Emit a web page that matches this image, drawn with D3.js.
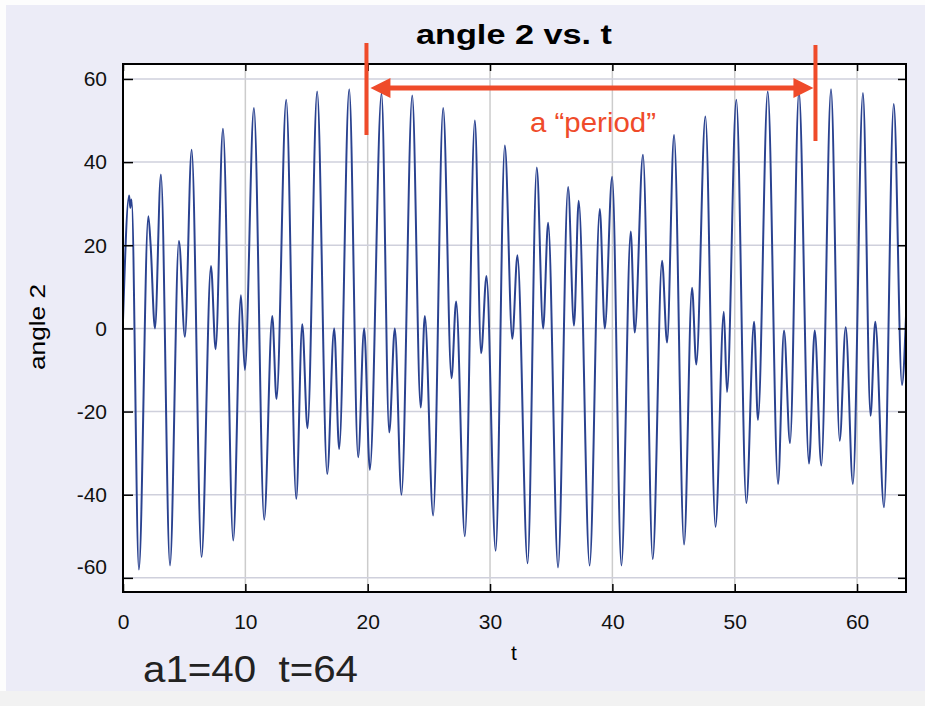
<!DOCTYPE html>
<html>
<head>
<meta charset="utf-8">
<script src="https://cdn.jsdelivr.net/npm/d3@7"></script>
<style>
  body { margin: 0; background: #fff; }
  text { font-family: "Liberation Sans", Arial, sans-serif; }
</style>
</head>
<body>
<div class="chart"></div>
<script>
// turning points of angle 2
var tValues = [0.00, 0.50, 0.60, 0.70, 1.30, 2.07, 2.26, 2.61, 3.10, 3.84,
  4.57, 5.06, 5.61, 6.42, 7.19, 7.57, 8.17, 9.01, 9.64, 9.96,
  10.70, 11.54, 12.20, 12.55, 13.34, 14.16, 14.65, 15.08, 15.87, 16.69,
  17.26, 17.67, 18.49, 19.22, 19.71, 20.18, 21.13, 21.76, 22.22, 22.76,
  23.64, 24.33, 24.67, 25.35, 26.17, 26.85, 27.23, 27.94, 28.76, 29.27,
  29.71, 30.46, 31.21, 31.82, 32.24, 33.07, 33.82, 34.34, 34.75, 35.56,
  36.38, 36.86, 37.25, 38.14, 38.97, 39.38, 39.98, 40.74, 41.50, 41.83,
  42.50, 43.30, 44.06, 44.47, 45.04, 45.86, 46.51, 46.86, 47.60, 48.43,
  49.11, 49.37, 50.13, 50.95, 51.58, 51.90, 52.70, 53.54, 54.03, 54.52,
  55.25, 56.07, 56.54, 57.08, 57.87, 58.58, 59.07, 59.66, 60.48, 61.10,
  61.49, 62.20, 63.00, 63.67, 64.00];
var angle2Values = [2, 32, 29, 31, -58, 27, 20, 0, 37, -57,
  21, -2, 43, -55, 15, -5, 48, -51, 8, -10,
  53, -46, 3, -17, 55, -41, 1, -24, 57, -35,
  0, -29, 57.5, -31, 0, -34, 56.5, -25, 0, -40,
  56, -19, 3, -45, 53, -12, 6.5, -50, 50, -6,
  12.6, -53.5, 44, -2.5, 17.6, -56.5, 38.7, 0, 25.4, -57.5,
  34, 0.7, 30.7, -57, 28.7, 0, 36.5, -57, 23.3, -1,
  41.8, -55.5, 16.3, -3.4, 46.5, -52, 9.8, -8.7, 51, -47.7,
  4, -15.3, 55, -42, 1.6, -22, 57, -37.4, -0.5, -27.6,
  57, -32.5, -0.5, -33, 57.5, -27, 0.3, -37.4, 56.6, -21,
  1.6, -43, 54, -13.6, 3];

var xTicks = [0, 10, 20, 30, 40, 50, 60];
var yTicks = [-60, -40, -20, 0, 20, 40, 60];
var periodStart = 19.9, periodEnd = 56.6;

var width = 925, height = 706;
var plot = {left: 123, right: 906, top: 64, bottom: 592};

var svg = d3.select(".chart")
  .append("svg")
  .attr("width", width)
  .attr("height", height);

// page background
svg.append("rect").attr("x", 0).attr("y", 0).attr("width", width).attr("height", height).attr("fill", "#fdfdfd");
svg.append("rect").attr("x", 6).attr("y", 5).attr("width", width - 6).attr("height", 686).attr("fill", "#ececf7");
svg.append("rect").attr("x", 0).attr("y", 691).attr("width", width).attr("height", 15).attr("fill", "#f2f2f2");

var x = d3.scaleLinear().domain([0, 64]).range([plot.left, plot.right]);
var y = d3.scaleLinear().domain([-63.4, 63.6]).range([plot.bottom, plot.top]);

svg.append("rect")
  .attr("x", plot.left).attr("y", plot.top)
  .attr("width", plot.right - plot.left).attr("height", plot.bottom - plot.top)
  .attr("fill", "#ffffff");

// grid
svg.append("g").selectAll("line")
  .data(xTicks.filter(d => d > 0))
  .enter().append("line")
  .attr("x1", d => x(d)).attr("x2", d => x(d))
  .attr("y1", plot.top).attr("y2", plot.bottom)
  .attr("stroke", "#cccccc").attr("stroke-width", 1.5);

svg.append("g").selectAll("line")
  .data(yTicks)
  .enter().append("line")
  .attr("x1", plot.left).attr("x2", plot.right)
  .attr("y1", d => y(d)).attr("y2", d => y(d))
  .attr("stroke", "#cfd0dc").attr("stroke-width", 1.5);

svg.append("clipPath").attr("id", "clip")
  .append("rect")
  .attr("x", plot.left).attr("y", plot.top)
  .attr("width", plot.right - plot.left).attr("height", plot.bottom - plot.top);

var points = tValues.map(function(t, i) { return {t: t, v: angle2Values[i]}; });

var line = d3.line()
  .curve(d3.curveMonotoneX)
  .x(d => x(d.t))
  .y(d => y(d.v));

svg.append("path")
  .datum(points)
  .attr("clip-path", "url(#clip)")
  .attr("fill", "none")
  .attr("stroke", "#2a4290")
  .attr("stroke-width", 2)
  .attr("stroke-linejoin", "round")
  .attr("d", line);

// axes, ticks pointing inward; plain hyphen for negatives
var fmt = d => String(d);
var xAxis = svg.append("g")
  .attr("transform", "translate(0," + plot.bottom + ")")
  .call(d3.axisBottom(x).tickValues(xTicks).tickFormat(fmt).tickSizeInner(-8).tickSizeOuter(0).tickPadding(22));
var yAxis = svg.append("g")
  .attr("transform", "translate(" + plot.left + ",0)")
  .call(d3.axisLeft(y).tickValues(yTicks).tickFormat(fmt).tickSizeInner(-10).tickSizeOuter(0).tickPadding(16));
svg.append("g")
  .attr("transform", "translate(0," + plot.top + ")")
  .call(d3.axisTop(x).tickValues(xTicks).tickSizeInner(-7).tickSizeOuter(0).tickFormat(""));
svg.append("g")
  .attr("transform", "translate(" + plot.right + ",0)")
  .call(d3.axisRight(y).tickValues(yTicks).tickSizeInner(-8).tickSizeOuter(0).tickFormat(""));

svg.selectAll(".domain").remove();
svg.selectAll(".tick line").attr("stroke", "#000").attr("stroke-width", 1.5);
svg.selectAll(".tick text").attr("fill", "#111").style("font-size", "21px");
// the lowest label sits a little above its grid line
yAxis.selectAll(".tick text").filter(d => d === -60).attr("y", -11);

svg.append("rect")
  .attr("x", plot.left).attr("y", plot.top)
  .attr("width", plot.right - plot.left).attr("height", plot.bottom - plot.top)
  .attr("fill", "none").attr("stroke", "#000").attr("stroke-width", 2);

// titles
svg.append("text")
  .attr("x", 514).attr("y", 44)
  .attr("text-anchor", "middle")
  .attr("textLength", 196).attr("lengthAdjust", "spacingAndGlyphs")
  .style("font-size", "27px").style("font-weight", "bold")
  .text("angle 2 vs. t");

svg.append("text")
  .attr("transform", "translate(45,327) rotate(-90)")
  .attr("text-anchor", "middle")
  .attr("textLength", 86).attr("lengthAdjust", "spacingAndGlyphs")
  .style("font-size", "22px")
  .text("angle 2");

svg.append("text")
  .attr("x", 514).attr("y", 660)
  .attr("text-anchor", "middle")
  .style("font-size", "21px")
  .text("t");

svg.append("text")
  .attr("x", 143).attr("y", 682)
  .attr("textLength", 215).attr("lengthAdjust", "spacingAndGlyphs")
  .style("font-size", "36px").attr("fill", "#222")
  .text("a1=40\u00a0\u00a0t=64");

// "period" annotation
var red = "#ef4b2a";
svg.append("line")
  .attr("x1", x(periodStart)).attr("x2", x(periodStart))
  .attr("y1", 43).attr("y2", 135)
  .attr("stroke", red).attr("stroke-width", 4);
svg.append("line")
  .attr("x1", x(periodEnd)).attr("x2", x(periodEnd))
  .attr("y1", 45).attr("y2", 141)
  .attr("stroke", red).attr("stroke-width", 4);
svg.append("line")
  .attr("x1", x(periodStart) + 16).attr("x2", x(periodEnd) - 16)
  .attr("y1", 88).attr("y2", 88)
  .attr("stroke", red).attr("stroke-width", 5);
svg.append("path")
  .attr("d", "M" + (x(periodStart) + 4) + ",88 L" + (x(periodStart) + 24) + ",78 L" + (x(periodStart) + 24) + ",98 Z")
  .attr("fill", red);
svg.append("path")
  .attr("d", "M" + (x(periodEnd) - 2) + ",88 L" + (x(periodEnd) - 22) + ",78 L" + (x(periodEnd) - 22) + ",98 Z")
  .attr("fill", red);
svg.append("text")
  .attr("x", 593).attr("y", 132)
  .attr("text-anchor", "middle")
  .attr("textLength", 126).attr("lengthAdjust", "spacingAndGlyphs")
  .style("font-size", "27px").attr("fill", red)
  .text("a \u201cperiod\u201d");
</script>
</body>
</html>
